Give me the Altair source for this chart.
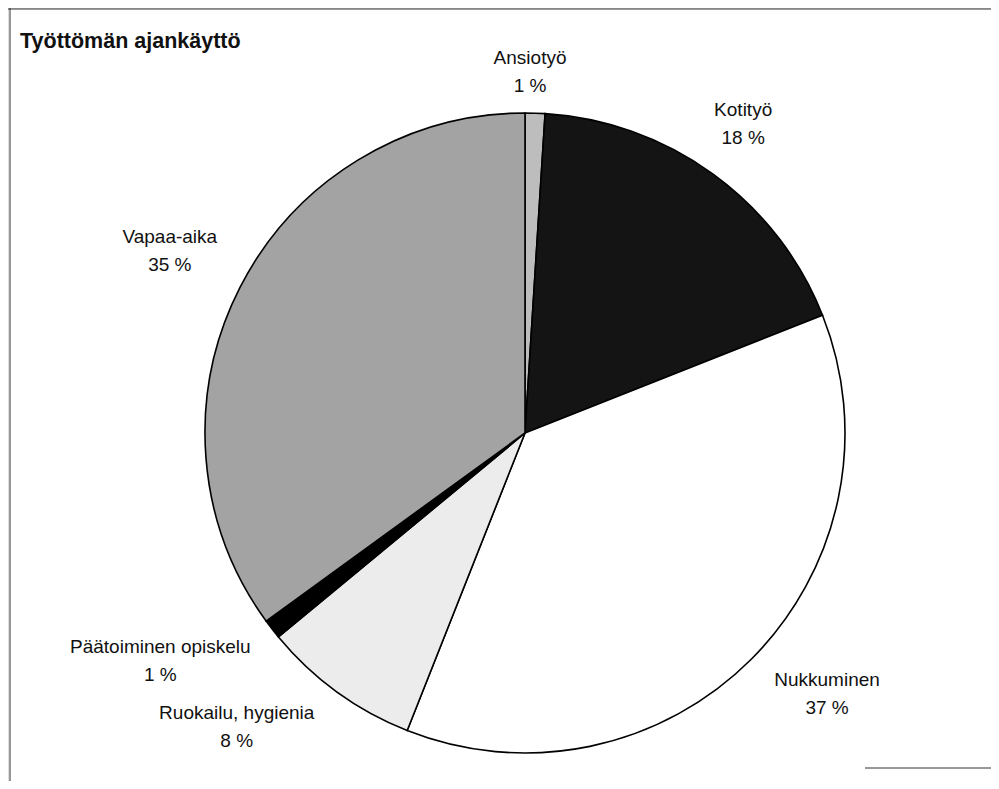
import math
import altair as alt
import pandas as pd

# ---- data ----
categories = ["Ansiotyö", "Kotityö", "Nukkuminen", "Ruokailu, hygienia",
              "Päätoiminen opiskelu", "Vapaa-aika"]
shares = [1, 18, 37, 8, 1, 35]
title_text = "Työttömän ajankäyttö"

# ---- styling / layout ----
fills = ["#bdbdbd", "#141414", "#ffffff", "#ececec", "#000000", "#a3a3a3"]
W, H = 983, 773
CX, CY, R = 517, 425, 320
LINE_H = 28
# label placement relative to each slice's middle angle (angle nudge in deg, radius in px)
label_nudge = {"Ansiotyö": -1.0, "Kotityö": -0.75, "Nukkuminen": -4.2,
               "Ruokailu, hygienia": 8.4, "Päätoiminen opiskelu": 5.8, "Vapaa-aika": 0.1}
label_radius = {"Ansiotyö": 361, "Kotityö": 378, "Nukkuminen": 399,
                "Ruokailu, hygienia": 412, "Päätoiminen opiskelu": 430, "Vapaa-aika": 399}

df = pd.DataFrame({"cat": categories, "share": shares, "order": list(range(len(categories)))})
total = sum(shares)
cum = 0.0
lx, ly = [], []
for c, s in zip(categories, shares):
    mid = (cum + s / 2) / total * 360 + label_nudge[c]
    cum += s
    a = math.radians(mid)
    r = label_radius[c]
    lx.append(CX + r * math.sin(a))
    ly.append(CY - r * math.cos(a))
df["lx"] = lx
df["ly"] = ly
df["label"] = [f"{c}\n{s} %" for c, s in zip(categories, shares)]

pie = alt.Chart(df).mark_arc(radius=R, stroke="black", strokeWidth=1.6).encode(
    theta=alt.Theta("share:Q", stack=True),
    order=alt.Order("order:Q"),
    color=alt.Color("cat:N", scale=alt.Scale(domain=categories, range=fills), legend=None),
    x=alt.value(CX),
    y=alt.value(CY),
)

labels = alt.Chart(df).mark_text(
    font="Liberation Sans", fontSize=19, lineBreak="\n", lineHeight=LINE_H,
    align="center", baseline="middle", dy=-LINE_H / 2, color="#111111",
).encode(
    x=alt.X("lx:Q", scale=None, axis=None),
    y=alt.Y("ly:Q", scale=None, axis=None),
    text="label:N",
)

title = alt.Chart(pd.DataFrame({"t": [title_text]})).mark_text(
    font="Liberation Sans", fontSize=21.5, fontWeight="bold", align="left",
    baseline="alphabetic", color="#111111",
).encode(x=alt.value(12), y=alt.value(40), text="t:N")

frame_top = alt.Chart(pd.DataFrame({"a": [0]})).mark_rule(color="#333333", strokeWidth=1).encode(
    x=alt.value(0), x2=alt.value(W), y=alt.value(1))
frame_left = alt.Chart(pd.DataFrame({"a": [0]})).mark_rule(color="#333333", strokeWidth=1).encode(
    x=alt.value(2), y=alt.value(0), y2=alt.value(H))
frame_bottom = alt.Chart(pd.DataFrame({"a": [0]})).mark_rule(color="#333333", strokeWidth=1).encode(
    x=alt.value(857), x2=alt.value(W), y=alt.value(760))

chart = alt.layer(pie, labels, title, frame_top, frame_left, frame_bottom).properties(
    width=W, height=H, autosize="none", padding=0,
).configure_view(stroke=None).configure(background="white")

chart.save("out.html", embed_options={"renderer": "svg", "actions": False})
